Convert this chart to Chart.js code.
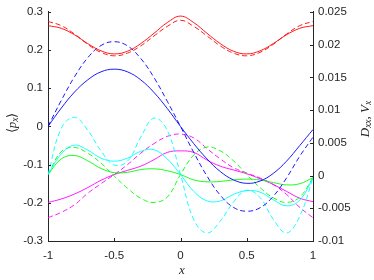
<!DOCTYPE html>
<html>
<head>
<meta charset="utf-8">
<script src="https://cdn.jsdelivr.net/npm/chart.js@4.4.1/dist/chart.umd.min.js"></script>
<style>
  html, body { margin: 0; padding: 0; background: #fff; }
  #wrap { width: 374px; height: 280px; }
</style>
</head>
<body>
<div id="wrap"><canvas id="chart" width="374" height="280"></canvas></div>
<script>
// x positions shared by every curve
const xs = [-1, -0.9, -0.8, -0.7, -0.6, -0.5, -0.4, -0.3, -0.2, -0.1, 0, 0.1, 0.2, 0.3, 0.4, 0.5, 0.6, 0.7, 0.8, 0.9, 1];

// values (left axis units)
const redSolid   = [0.264, 0.257, 0.240, 0.217, 0.198, 0.190, 0.197, 0.217, 0.244, 0.272, 0.289, 0.272, 0.244, 0.217, 0.197, 0.190, 0.198, 0.217, 0.240, 0.257, 0.264];
const redDashed  = [0.275, 0.264, 0.242, 0.215, 0.194, 0.185, 0.192, 0.211, 0.237, 0.262, 0.278, 0.262, 0.237, 0.211, 0.192, 0.185, 0.194, 0.215, 0.242, 0.264, 0.275];
const blueSolid  = [0, 0.048, 0.090, 0.122, 0.143, 0.150, 0.143, 0.122, 0.089, 0.047, 0.0, -0.045, -0.085, -0.118, -0.140, -0.149, -0.143, -0.123, -0.091, -0.050, -0.008];
const blueDashed = [0, 0.068, 0.130, 0.180, 0.212, 0.222, 0.211, 0.178, 0.128, 0.066, 0.0, -0.068, -0.130, -0.180, -0.212, -0.222, -0.213, -0.183, -0.135, -0.078, -0.028];
const cyanSolid  = [-0.126, -0.072, -0.049, -0.062, -0.083, -0.091, -0.083, -0.065, -0.061, -0.085, -0.126, -0.170, -0.195, -0.195, -0.178, -0.168, -0.172, -0.192, -0.208, -0.193, -0.135];
const cyanDashed = [-0.126, -0.005, 0.024, -0.010, -0.064, -0.101, -0.091, -0.028, 0.022, -0.010, -0.126, -0.244, -0.279, -0.248, -0.198, -0.167, -0.186, -0.243, -0.279, -0.235, -0.135];
const greenSolid = [-0.126, -0.085, -0.076, -0.090, -0.110, -0.121, -0.120, -0.113, -0.111, -0.116, -0.126, -0.140, -0.145, -0.144, -0.140, -0.138, -0.140, -0.147, -0.153, -0.150, -0.134];
const greenDashed = [-0.126, -0.066, -0.055, -0.070, -0.096, -0.130, -0.162, -0.188, -0.199, -0.185, -0.126, -0.075, -0.054, -0.064, -0.090, -0.126, -0.160, -0.187, -0.199, -0.185, -0.134];
const magSolid   = [-0.199, -0.190, -0.177, -0.160, -0.141, -0.126, -0.115, -0.104, -0.087, -0.068, -0.064, -0.068, -0.088, -0.104, -0.114, -0.124, -0.137, -0.152, -0.170, -0.188, -0.197];
const magDashed  = [-0.239, -0.225, -0.205, -0.175, -0.150, -0.126, -0.100, -0.070, -0.045, -0.026, -0.020, -0.030, -0.058, -0.085, -0.108, -0.122, -0.135, -0.152, -0.178, -0.212, -0.239];

// tick values
const xTicks = [-1, -0.5, 0, 0.5, 1];
const yTicks = [-0.3, -0.2, -0.1, 0, 0.1, 0.2, 0.3];
const y2Ticks = [-0.01, -0.005, 0, 0.005, 0.01, 0.015, 0.02, 0.025];

const axisColor = '#262626';
const tickFont = { family: 'Liberation Sans', size: 11.5 };

function series(ys, color, dashed) {
    return {
        data: xs.map((x, i) => ({ x: x, y: ys[i] })),
        borderColor: color,
        borderWidth: 0.9,
        borderDash: dashed ? [5, 3] : [],
        pointRadius: 0,
        tension: 0.4,
        fill: false,
        yAxisID: 'y'
    };
}

// inward ticks like the original plot
const inwardTicks = {
    id: 'inwardTicks',
    afterDraw(chart) {
        const ctx = chart.ctx;
        const a = chart.chartArea;
        ctx.save();
        ctx.strokeStyle = axisColor;
        ctx.lineWidth = 1;
        ctx.beginPath();
        chart.scales.x.ticks.forEach(t => {
            const px = Math.round(chart.scales.x.getPixelForValue(t.value)) + 0.5;
            ctx.moveTo(px, a.bottom);
            ctx.lineTo(px, a.bottom - 3);
        });
        chart.scales.y.ticks.forEach(t => {
            const py = Math.round(chart.scales.y.getPixelForValue(t.value)) + 0.5;
            ctx.moveTo(a.left, py);
            ctx.lineTo(a.left + 3, py);
        });
        chart.scales.y2.ticks.forEach(t => {
            const py = Math.round(chart.scales.y2.getPixelForValue(t.value)) + 0.5;
            ctx.moveTo(a.right, py);
            ctx.lineTo(a.right - 3, py);
        });
        ctx.stroke();
        ctx.restore();
    }
};

// draw text pieces (with subscripts) centred at (cx, cy), optionally rotated
function drawMath(ctx, parts, cx, cy, rot) {
    ctx.save();
    ctx.translate(cx, cy);
    ctx.rotate(rot);
    ctx.fillStyle = axisColor;
    ctx.textBaseline = 'alphabetic';
    let total = 0;
    parts.forEach(p => { ctx.font = p.font; total += ctx.measureText(p.text).width; });
    let x = -total / 2;
    parts.forEach(p => {
        ctx.font = p.font;
        ctx.fillText(p.text, x, 4 + (p.dy || 0));
        x += ctx.measureText(p.text).width;
    });
    ctx.restore();
}

const axisTitles = {
    id: 'axisTitles',
    afterDraw(chart) {
        const ctx = chart.ctx;
        const it = 'italic 13px "Liberation Serif"';
        const sub = 'italic 9.5px "Liberation Serif"';
        const rm = '13px "Liberation Serif"';
        drawMath(ctx, [
            { text: '\u27E8', font: rm },
            { text: 'p', font: it },
            { text: 'x', font: sub, dy: 2 },
            { text: '\u27E9', font: rm }
        ], 12, 123, -Math.PI / 2);
        drawMath(ctx, [
            { text: 'D', font: it },
            { text: 'xx', font: sub, dy: 2 },
            { text: ', ', font: rm },
            { text: 'V', font: it },
            { text: 'x', font: sub, dy: 2 }
        ], 365, 119, -Math.PI / 2);
        drawMath(ctx, [{ text: 'x', font: it }], 182, 270, 0);
    }
};

function fmt(v) {
    return String(Number(v.toFixed(4)));
}

new Chart(document.getElementById('chart'), {
    type: 'line',
    data: {
        datasets: [
            series(redSolid, '#ff0000', false),
            series(redDashed, '#ff0000', true),
            series(blueSolid, '#0000ff', false),
            series(blueDashed, '#0000ff', true),
            series(cyanSolid, '#00ffff', false),
            series(cyanDashed, '#00ffff', true),
            series(greenSolid, '#00ff00', false),
            series(greenDashed, '#00ff00', true),
            series(magSolid, '#ff00ff', false),
            series(magDashed, '#ff00ff', true)
        ]
    },
    options: {
        responsive: false,
        animation: false,
        layout: { padding: { top: 7, left: 0, right: 0, bottom: 0 } },
        plugins: { legend: { display: false }, tooltip: { enabled: false } },
        scales: {
            x: {
                type: 'linear',
                min: -1, max: 1,
                afterBuildTicks: s => { s.ticks = xTicks.map(v => ({ value: v })); },
                afterFit: s => { s.height = 39; },
                grid: { display: false, drawTicks: false },
                border: { display: true, color: axisColor, width: 1 },
                ticks: { color: axisColor, font: tickFont, padding: 8, maxRotation: 0, callback: v => fmt(v) }
            },
            y: {
                type: 'linear',
                position: 'left',
                min: -0.3, max: 0.3,
                afterBuildTicks: s => { s.ticks = yTicks.map(v => ({ value: v })); },
                afterFit: s => { s.width = 48; },
                grid: { display: false, drawTicks: false },
                border: { display: true, color: axisColor, width: 1 },
                ticks: { color: axisColor, font: tickFont, padding: 5, callback: v => fmt(v) }
            },
            y2: {
                type: 'linear',
                position: 'right',
                display: true,
                min: -0.01, max: 0.025,
                afterBuildTicks: s => { s.ticks = y2Ticks.map(v => ({ value: v })); },
                afterFit: s => { s.width = 61; },
                grid: { display: false, drawTicks: false },
                border: { display: true, color: axisColor, width: 1 },
                ticks: { color: axisColor, font: tickFont, padding: 5, callback: v => fmt(v) }
            }
        }
    },
    plugins: [inwardTicks, axisTitles]
});
</script>
</body>
</html>
